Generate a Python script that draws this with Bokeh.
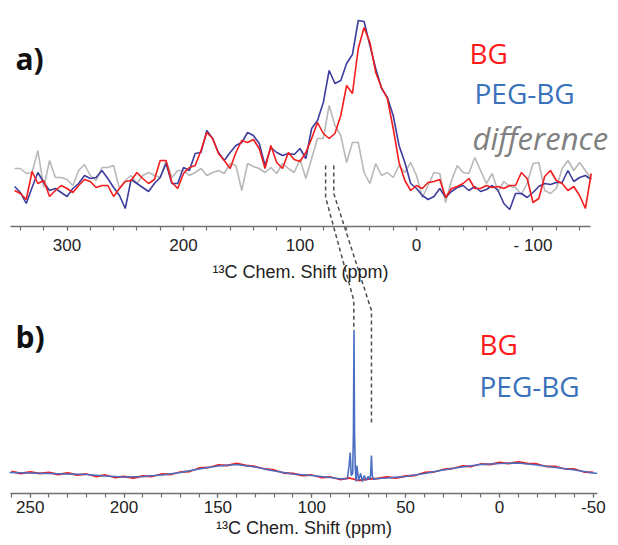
from bokeh.plotting import figure
from bokeh.models import Range1d, LinearAxis, SingleIntervalTicker, Label
from bokeh.embed import file_html
from bokeh.resources import INLINE

# ---------------- panel a) data (intensity, a.u.) ----------------
ppm_a = [345, 340, 335, 330, 325, 320, 315, 310, 305, 300,
         295, 290, 285, 280, 275, 270, 265, 260, 255, 250,
         245, 240, 235, 230, 225, 220, 215, 210, 205, 200,
         195, 190, 185, 180, 175, 170, 165, 160, 155, 150,
         145, 140, 135, 130, 125, 120, 115, 110, 105, 100,
         95, 90, 85, 80, 75, 70, 65, 60, 55, 50,
         45, 40, 35, 30, 25, 20, 15, 10, 5, 0,
         -5, -10, -15, -20, -25, -30, -35, -40, -45, -50,
         -55, -60, -65, -70, -75, -80, -85, -90, -95, -100,
         -105, -110, -115, -120, -125, -130, -135, -140, -145, -150]

bg_a = [10, 7, 1, 29, 17, 20, 4, 10, 15, 12,
        8, 15, 21, 19, 13, 15, 15, 4, 12, 19,
        20, 28, 22, 17, 21, 40, 40, 18, 12, 27,
        33, 35, 50, 68, 62, 47, 40, 32, 48, 60,
        58, 61, 52, 32, 55, 38, 32, 48, 41, 39,
        48, 62, 78, 67, 62, 67, 85, 115, 107, 152,
        173, 158, 128, 113, 102, 72, 38, 20, 10, 15,
        12, 18, 19, 21, 3, 12, 14, 17, 22, 12,
        12, 15, 13, 14, 12, 15, 15, 28, 22, -2,
        2, 24, 30, 20, 17, 10, 14, 5, -8, 27]

peg_a = [14, 8, -3, 13, 28, 18, 10, 12, 8, 4,
         12, 17, 25, 22, 23, 30, 22, 13, 5, -8,
         21, 17, 13, 9, 17, 23, 37, 17, 17, 33,
         30, 47, 48, 70, 62, 48, 40, 48, 55, 58,
         68, 65, 57, 35, 53, 48, 45, 47, 46, 52,
         42, 72, 80, 98, 130, 117, 120, 137, 146, 180,
         179, 155, 132, 112, 103, 85, 55, 38, 17, 12,
         5, 1, 4, 12, 3, 9, 13, 15, 10, 14,
         9, 11, 15, 10, -3, -9, 7, 7, 3, 8,
         14, 17, 16, 18, 18, 30, 19, 23, 25, 21]

diff_a = [32, 32, 27, 28, 50, 13, 40, 23, 23, 21,
          15, 30, 36, 25, 20, 33, 33, 35, 12, 20,
          25, 17, 25, 28, 25, 23, 40, 23, 30, 30,
          25, 28, 32, 25, 28, 30, 27, 37, 35, 10,
          37, 34, 32, 28, 33, 27, 37, 32, 28, 41,
          22, 42, 62, 62, 95, 75, 65, 38, 58, 58,
          28, 17, 37, 25, 28, 23, 35, 28, 38, 25,
          3, 15, 28, 27, -2, 20, 35, 28, 27, 43,
          30, 17, 27, 9, 19, 14, 13, 6, 17, 37,
          38, 10, 7, 12, 32, 40, 30, 38, 30, 22]

# ---------------- panel b) data (intensity, a.u.) ----------------
ppm_b_peg = [261, 250, 240, 230, 220, 210, 200, 190, 180, 170,
             160, 150, 140, 130, 120, 110, 100, 90, 84, 81,
             80, 79.5, 79, 78.2, 77.8, 77.5, 77.2, 76.8, 76.4, 76,
             75, 74, 73, 72, 71, 70, 69, 68.6, 68.2, 67.8,
             67, 65, 60, 50, 40, 30, 20, 10, 0, -10,
             -20, -30, -40, -52]
peg_b = [21, 20.5, 20, 19.5, 19, 17.5, 16.5, 17, 18.5, 21,
         24.5, 27.5, 29, 26.5, 22.5, 19.5, 18, 16, 14.5, 15,
         30, 41, 18, 20, 60, 163, 60, 25, 12, 28,
         13, 20, 12, 18, 13, 17, 14, 20, 38, 18,
         14, 15, 15.5, 17, 20, 23.5, 26.5, 29, 30, 30.5,
         28.5, 26, 23.5, 20]

ppm_b_bg = [260, 255, 250, 245, 240, 235, 230, 225, 220, 215,
            210, 205, 200, 195, 190, 185, 180, 175, 170, 165,
            160, 155, 150, 145, 140, 135, 130, 125, 120, 115,
            110, 105, 100, 95, 90, 85, 80, 75, 70, 65,
            60, 55, 50, 45, 40, 35, 30, 25, 20, 15,
            10, 5, 0, -5, -10, -15, -20, -25, -30, -35,
            -40, -45, -50]
bg_b = [22, 20, 21.5, 20, 21, 19, 20.5, 18.5, 19.5, 17,
        18.5, 16, 17, 15.5, 17.5, 17, 19.5, 19, 21.5, 22,
        25.5, 26, 28.5, 28, 30, 28, 27, 24.5, 23.5, 20.5,
        20, 18, 18.5, 16, 16.5, 14, 15.5, 13, 14.5, 15,
        16.5, 15.5, 17.5, 18, 21, 21.5, 24, 25, 27.5, 27,
        29.5, 29, 31, 30, 31.5, 30, 29.5, 27, 27, 24.5,
        24.5, 21.5, 21]

# dashed guides: same resonances in panel a) and panel b)
guide_top_ppm = [78, 71]
guide_bot_ppm = [77.6, 68.2]

# ---------------- layout ----------------
W, H = 618, 545
top_x = (357.1, -173.4)
top_y = (-345.0, 200.0)
bot_x = (265.8, -63.4)
bot_y = (-52.0, 493.0)

RED = "#f41c1c"
BLUE_A = "#3d3d9e"
BLUE_B = "#4a6fc2"
GREY = "#b8b8b8"
AXC = "#707070"

p = figure(width=W, height=H, x_range=Range1d(*bot_x), y_range=Range1d(*bot_y),
           output_backend="svg", toolbar_location=None,
           x_axis_location=None, y_axis_location=None,
           min_border=0, outline_line_color=None, background_fill_color="white")
p.grid.visible = False
p.extra_x_ranges = {"top": Range1d(*top_x)}
p.extra_y_ranges = {"top": Range1d(*top_y)}


def bx(px):
    return bot_x[0] + px / W * (bot_x[1] - bot_x[0])


def by(py):
    return bot_y[1] - py / H * (bot_y[1] - bot_y[0])


def top_to_bot(ppm_t, inten):
    fx = (ppm_t - top_x[0]) / (top_x[1] - top_x[0])
    fy = (inten - top_y[0]) / (top_y[1] - top_y[0])
    return (bot_x[0] + fx * (bot_x[1] - bot_x[0]),
            bot_y[0] + fy * (bot_y[1] - bot_y[0]))


# panel a) spectra
p.line(ppm_a, diff_a, x_range_name="top", y_range_name="top", line_color=GREY, line_width=1.6)
p.line(ppm_a, peg_a, x_range_name="top", y_range_name="top", line_color=BLUE_A, line_width=1.6)
p.line(ppm_a, bg_a, x_range_name="top", y_range_name="top", line_color=RED, line_width=1.6)

# panel b) spectra
p.line(ppm_b_bg, bg_b, line_color=RED, line_width=1.8)
p.line(ppm_b_peg, peg_b, line_color=BLUE_B, line_width=1.6)

# dashed guide lines
starts_I = [35, 35]
bends_I = [3, 7]
bends_J = [193, 183]
ends_J = [163, 68]
for pt, pb, s, b1, b2, e in zip(guide_top_ppm, guide_bot_ppm, starts_I, bends_I, bends_J, ends_J):
    a0 = top_to_bot(pt, s)
    a1 = top_to_bot(pt, b1)
    p.line([a0[0], a1[0], pb, pb], [a0[1], a1[1], b2, e],
           line_color="#4d4d4d", line_width=1.5, line_dash="4 3")


# axes
def style_axis(ax, label_standoff, title_standoff):
    ax.axis_line_color = AXC
    ax.axis_line_width = 1.5
    ax.major_tick_line_color = AXC
    ax.minor_tick_line_color = AXC
    ax.major_tick_line_width = 1.2
    ax.minor_tick_line_width = 1.2
    ax.major_tick_in = 0
    ax.major_tick_out = 4
    ax.minor_tick_in = 0
    ax.minor_tick_out = 4
    ax.major_label_text_font = "Liberation Sans"
    ax.major_label_text_font_size = "17px"
    ax.major_label_text_color = "#222222"
    ax.major_label_standoff = label_standoff
    ax.axis_label_text_font = "Liberation Sans"
    ax.axis_label_text_font_size = "18px"
    ax.axis_label_text_font_style = "normal"
    ax.axis_label_text_color = "#222222"
    ax.axis_label_standoff = title_standoff


ax_top = LinearAxis(x_range_name="top", y_range_name="top", fixed_location=-26,
                    ticker=SingleIntervalTicker(interval=100, num_minor_ticks=5),
                    bounds=(-149, 348.5), axis_label="¹³C Chem. Shift (ppm)")
style_axis(ax_top, 5, 4)
ax_top.major_label_overrides = {-100: "- 100"}
p.add_layout(ax_top, "below")

ax_bot = LinearAxis(fixed_location=0,
                    ticker=SingleIntervalTicker(interval=50, num_minor_ticks=5),
                    bounds=(-52.2, 260.5), axis_label="¹³C Chem. Shift (ppm)")
style_axis(ax_bot, 3, 2)
ax_bot.major_label_overrides = {-50: "-50"}
p.add_layout(ax_bot, "below")


# panel letters and legends
def lab(px, py, text, color, size, style="normal", font="Open Sans"):
    p.add_layout(Label(x=bx(px), y=by(py), text=text, text_color=color,
                       text_font=font, text_font_size=size, text_font_style=style,
                       text_baseline="alphabetic", text_align="left"))


lab(15, 58, "a)", "#111111", "30px", "bold")
lab(15, 336, "b)", "#111111", "30px", "bold")
lab(469, 52, "BG", "#ff1a1a", "28px")
lab(474, 92, "PEG-BG", "#3a72bb", "28px")
lab(472, 137, "difference", "#808080", "31px", "italic")
lab(479, 343, "BG", "#ff1a1a", "28px")
lab(479, 385, "PEG-BG", "#3a72bb", "28px")

open("out.html", "w").write(file_html(p, INLINE))
